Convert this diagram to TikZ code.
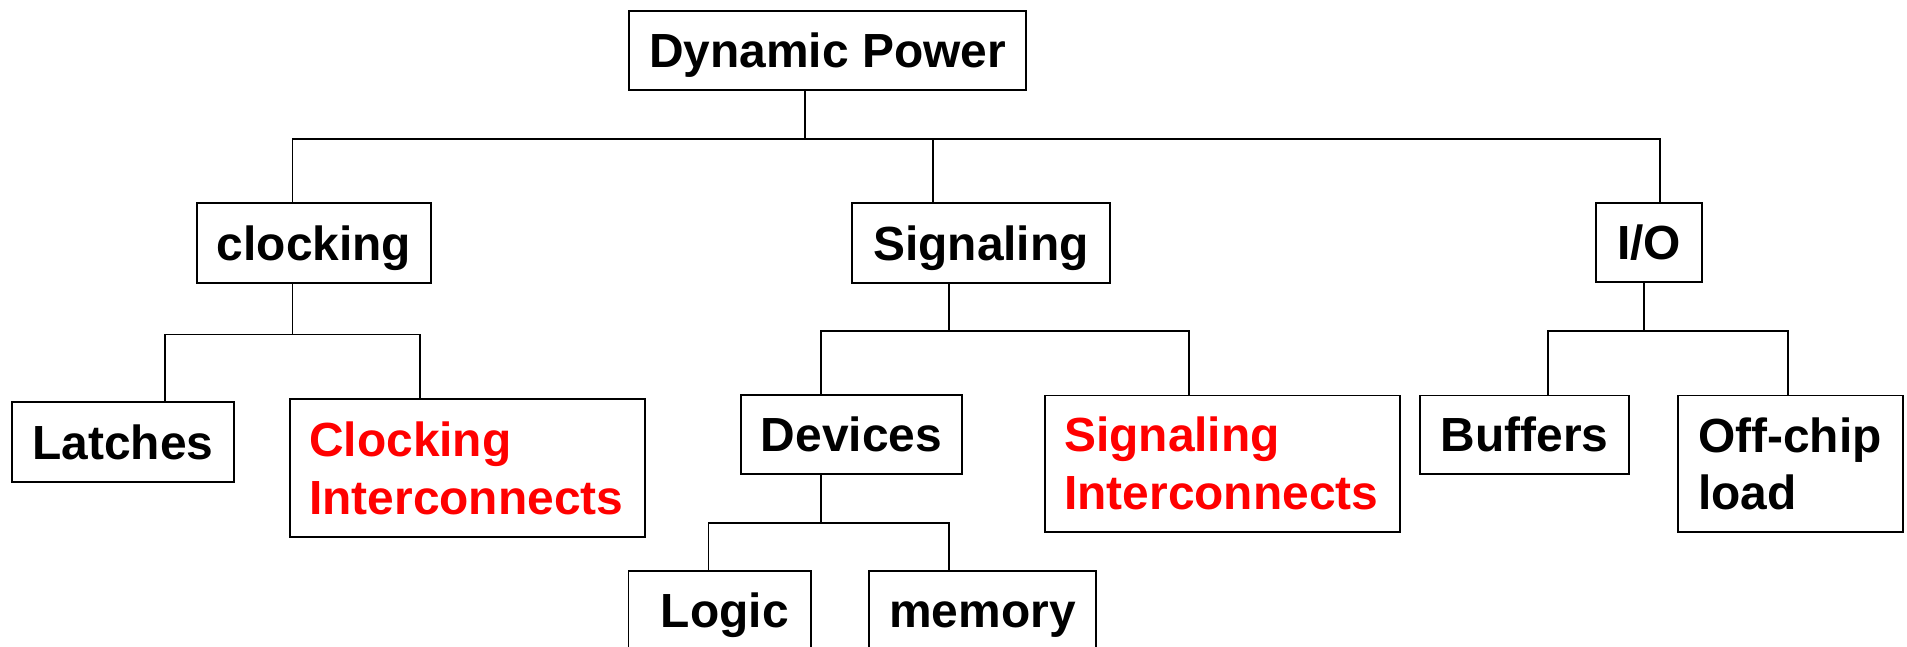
\documentclass[tikz,border=0pt]{standalone}
\usepackage{fontspec}
\setmainfont{Liberation Sans}
\begin{document}
\begin{tikzpicture}[x=1pt,y=-1pt,
  box/.style={draw=black,line width=1.7pt,inner sep=0pt,fill=white,
    font=\fontsize{47.9}{57}\selectfont\bfseries,text height=34pt,text depth=0pt},
  txt/.style={inner sep=0pt,anchor=base west,font=\fontsize{47.9}{57}\selectfont\bfseries},
  red txt/.style={txt,text=red},
  conn/.style={line width=1.3pt,draw=black}]
\useasboundingbox (0,0) rectangle (1907,646);
\fill[white] (0,0) rectangle (1907,646);
\begin{scope}
\clip (0,0) rectangle (1907,646);
% boxes
\node[box,minimum width=397pt,minimum height=79pt] (dp) at (827.5,50.5) {Dynamic Power};
\node[box,minimum width=234pt,minimum height=80pt] (clk) at (314,243) {clocking};
\node[box,minimum width=258pt,minimum height=80pt] (sig) at (981,243) {Signaling};
\node[box,minimum width=106pt,minimum height=79pt] (io) at (1649,242.5) {I/O};
\node[box,minimum width=222pt,minimum height=80pt] (lat) at (123,442) {Latches};
\node[box,minimum width=355pt,minimum height=138pt] (ci) at (467.5,468) {};
\node[box,minimum width=221pt,minimum height=79pt] (dev) at (851.5,434.5) {Devices};
\node[box,minimum width=355pt,minimum height=136.5pt] (si) at (1222.5,463.75) {};
\node[box,minimum width=209pt,minimum height=78.5pt] (buf) at (1524.5,434.75) {Buffers};
\node[box,minimum width=225pt,minimum height=136.5pt] (off) at (1790.5,463.75) {};
\node[box,minimum width=182.5pt,minimum height=79pt] (log) at (719.75,610.5) {\hspace*{10pt}Logic};
\node[box,minimum width=227pt,minimum height=79pt] (mem) at (982.5,610.5) {memory};
% multi-line texts
\node[red txt] (ci1) at (309,456) {Clocking};
\node[red txt] (ci2) at (309,514) {Interconnects};
\node[red txt] (si1) at (1064,451) {Signaling};
\node[red txt] (si2) at (1064,509) {Interconnects};
\node[txt] (off1) at (1698,452) {Off-chip};
\node[txt] (off2) at (1698,509.5) {load};
% junction coordinates
\coordinate (b0) at (805,139);
\coordinate (bL) at (292.5,139);
\coordinate (bS) at (933,139);
\coordinate (bR) at (1660,139);
\coordinate (c0) at (292.5,334.7);
\coordinate (cL) at (165,334.7);
\coordinate (cR) at (420,334.7);
\coordinate (s0) at (949,331);
\coordinate (sL) at (821,331);
\coordinate (sR) at (1189,331);
\coordinate (d0) at (821,523);
\coordinate (dL) at (708.5,523);
\coordinate (dR) at (949,523);
\coordinate (i0) at (1644,331);
\coordinate (iL) at (1548,331);
\coordinate (iR) at (1788,331);
% connectors
\draw[conn] (dp.south -| b0) -- (b0);
\draw[conn] (clk.north -| bL) -- (bL) -- (bR) -- (io.north -| bR);
\draw[conn] (bS) -- (sig.north -| bS);
\draw[conn] (clk.south -| c0) -- (c0);
\draw[conn] (lat.north -| cL) -- (cL) -- (cR) -- (ci.north -| cR);
\draw[conn] (sig.south -| s0) -- (s0);
\draw[conn] (dev.north -| sL) -- (sL) -- (sR) -- (si.north -| sR);
\draw[conn] (dev.south -| d0) -- (d0);
\draw[conn] (log.north -| dL) -- (dL) -- (dR) -- (mem.north -| dR);
\draw[conn] (io.south -| i0) -- (i0);
\draw[conn] (buf.north -| iL) -- (iL) -- (iR) -- (off.north -| iR);
\end{scope}
\end{tikzpicture}
\end{document}
